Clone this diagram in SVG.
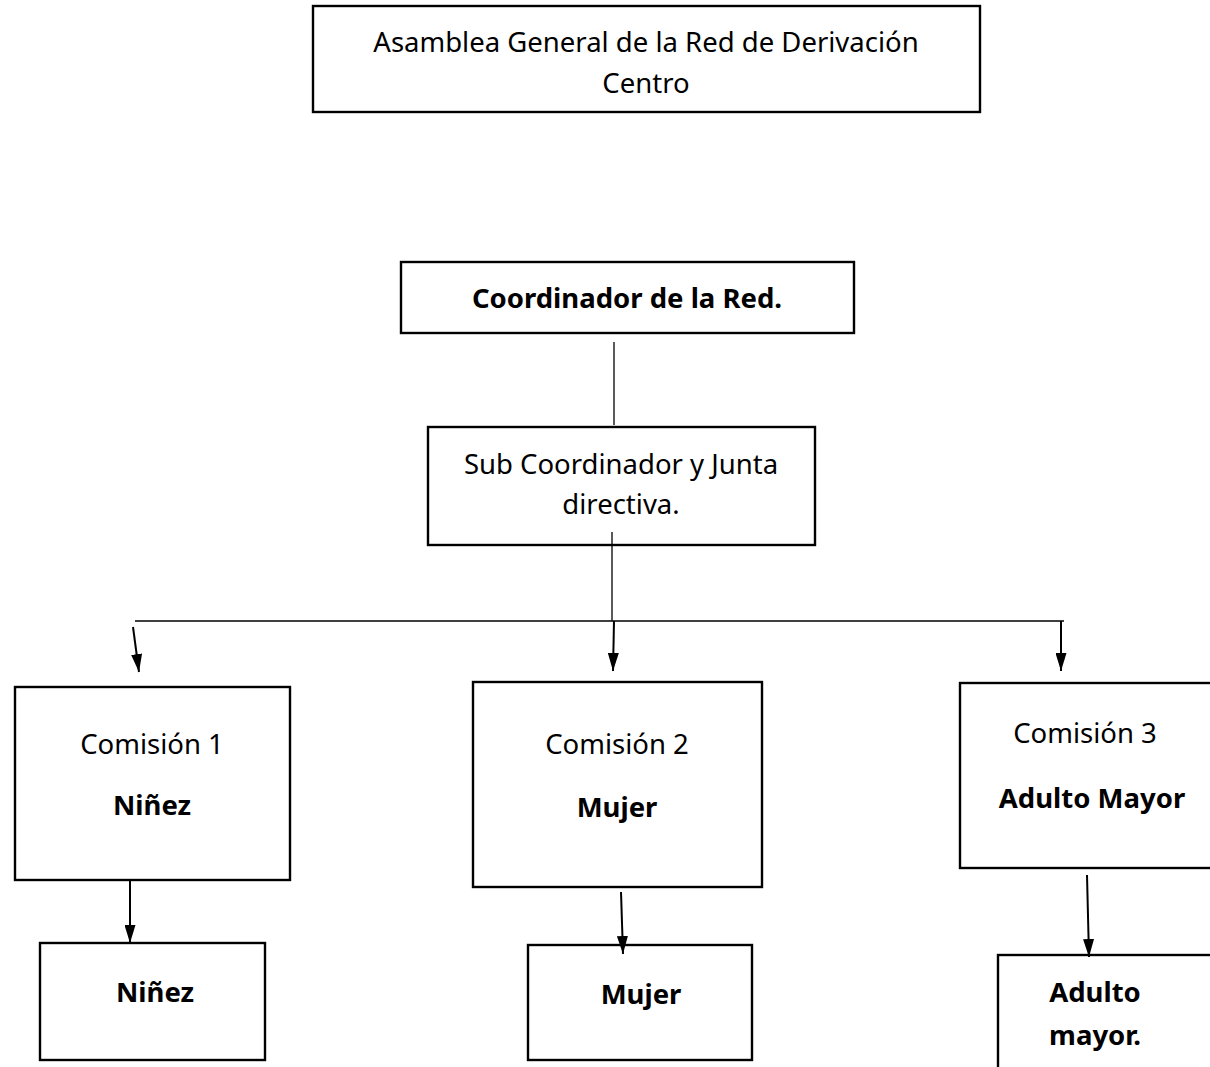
<svg xmlns="http://www.w3.org/2000/svg" width="1210" height="1067" viewBox="0 0 1210 1067">
<style>
.box{fill:#fff;stroke:#000;stroke-width:2.4}
.t{font-family:"Noto Sans","Open Sans",sans-serif;font-size:27.5px;fill:#000;text-anchor:middle}
.b{font-weight:bold}
.c{stroke:#000;stroke-width:1.3;fill:none}
.a{stroke:#000;stroke-width:2;fill:none;marker-end:url(#ah)}
</style>
<defs>
<marker id="ah" markerWidth="18" markerHeight="11" refX="18" refY="5.5" orient="auto" markerUnits="userSpaceOnUse" viewBox="0 0 18 11">
<path d="M0,0 L18,5.5 L0,11 Z" fill="#000"/>
</marker>
</defs>
<g id="asamblea">
<rect class="box" x="313" y="6" width="667" height="106"/>
<text class="t" x="646" y="52">Asamblea General de la Red de Derivación</text>
<text class="t" x="646" y="93">Centro</text>
</g>
<g id="coordinador">
<rect class="box" x="401" y="262" width="453" height="71"/>
<text class="t b" x="627" y="308">Coordinador de la Red.</text>
</g>
<g id="subcoordinador">
<rect class="box" x="428" y="427" width="387" height="118"/>
<text class="t" x="621" y="474">Sub Coordinador y Junta</text>
<text class="t" x="621" y="514">directiva.</text>
</g>
<g id="comision1">
<rect class="box" x="15" y="687" width="275" height="193"/>
<text class="t" x="152" y="754">Comisión 1</text>
<text class="t b" x="152" y="815">Niñez</text>
</g>
<g id="comision2">
<rect class="box" x="473" y="682" width="289" height="205"/>
<text class="t" x="617" y="754">Comisión 2</text>
<text class="t b" x="617" y="817">Mujer</text>
</g>
<g id="comision3">
<rect class="box" x="960" y="683" width="260" height="185"/>
<text class="t" x="1085" y="743">Comisión 3</text>
<text class="t b" x="1092" y="808">Adulto Mayor</text>
</g>
<g id="ninez">
<rect class="box" x="40" y="943" width="225" height="117"/>
<text class="t b" x="155" y="1002">Niñez</text>
</g>
<g id="mujer">
<rect class="box" x="528" y="945" width="224" height="115"/>
<text class="t b" x="641" y="1004">Mujer</text>
</g>
<g id="adulto">
<rect class="box" x="998" y="955" width="222" height="120"/>
<text class="t b" x="1095" y="1002">Adulto</text>
<text class="t b" x="1095" y="1045">mayor.</text>
</g>
<g id="connectors">
<line class="c" x1="614" y1="342" x2="614" y2="425"/>
<line class="c" x1="612" y1="532" x2="612" y2="621"/>
<line class="c" x1="135" y1="621" x2="1064" y2="621"/>
<line class="a" x1="133" y1="627" x2="139" y2="672"/>
<line class="a" x1="614" y1="621" x2="613" y2="671"/>
<line class="a" x1="1061" y1="621" x2="1061" y2="671"/>
<line class="a" x1="130" y1="880" x2="130" y2="943"/>
<line class="a" x1="621" y1="892" x2="623" y2="954"/>
<line class="a" x1="1087" y1="875" x2="1089" y2="957"/>
</g>
</svg>
